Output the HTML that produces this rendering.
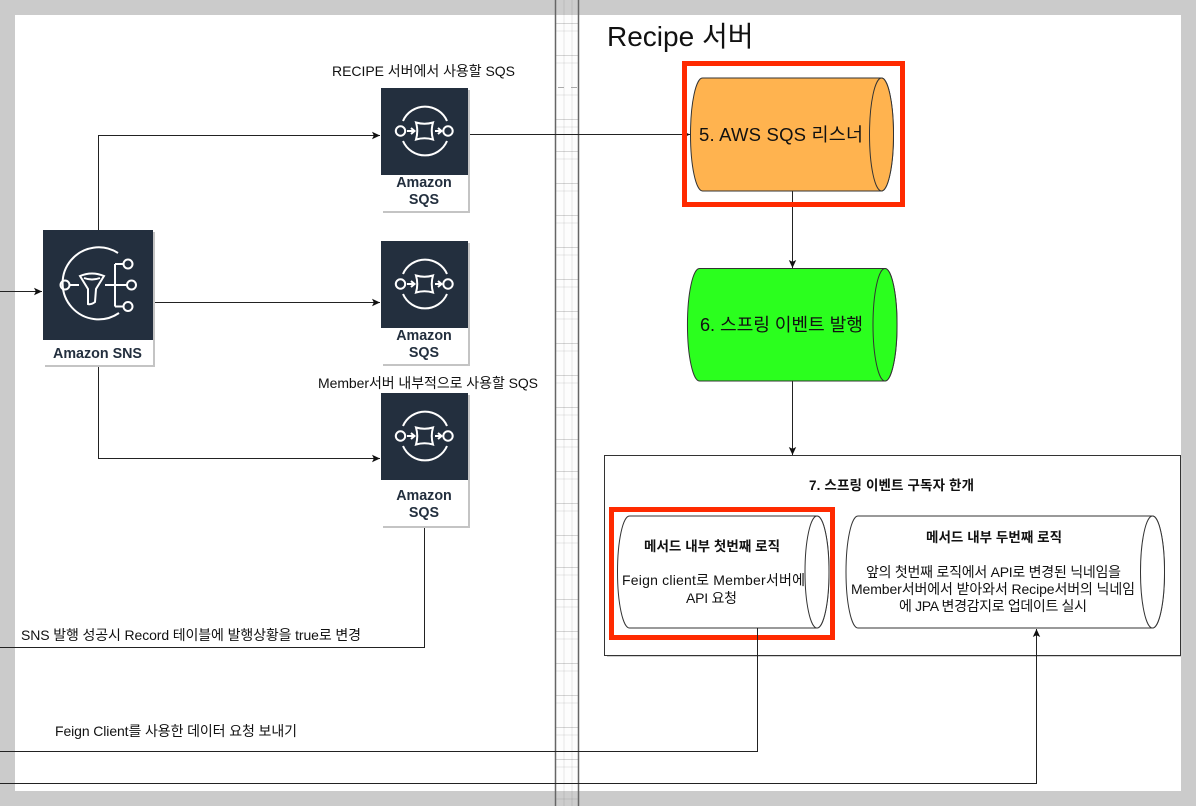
<!DOCTYPE html>
<html lang="ko"><head><meta charset="utf-8"><style>
html,body{margin:0;padding:0;background:#cbcbcb}
svg{display:block}
text{font-family:"Liberation Sans","Noto Sans CJK KR",sans-serif;fill:#111}
.aws{fill:#232f3e;font-weight:bold;font-size:14.300px;text-anchor:middle}
.l{stroke:#222;stroke-width:1;fill:none}
.ic{stroke:#fff;stroke-width:2;fill:none}
.s{font-size:14px}
.b{font-size:13.500px;font-weight:bold}
</style></head><body>
<svg width="1196" height="806" viewBox="0 0 1196 806" xmlns="http://www.w3.org/2000/svg">
<defs>
<marker id="a" markerWidth="10" markerHeight="10" refX="8" refY="4.500" orient="auto" markerUnits="userSpaceOnUse"><path d="M0 .8L8 4.500 0 8.200 1.800 4.500z" fill="#111"/></marker>
<g id="sqs">
<rect x="0" y="0" width="87" height="87" fill="#232f3e"/>
<path class="ic" d="M22 33A24 24 0 0 1 66 33M22 53A24 24 0 0 0 66 53"/>
<circle class="ic" cx="19.500" cy="43" r="4.700"/><circle class="ic" cx="67" cy="43" r="4.700"/>
<path class="ic" d="M35 34.500Q43.500 37 52 34.500Q49.500 43 52 51.500Q43.500 49 35 51.500Q37.500 43 35 34.500z"/>
<path class="ic" d="M26 43H33M30 40L33.500 43 30 46M54 43H60M57 40L60.500 43 57 46"/>
</g>
</defs>
<rect width="1196" height="806" fill="#cbcbcb"/>
<rect x="15" y="15" width="1166" height="776" fill="#fff"/>
<!-- gutter strip -->
<rect x="556" y="0" width="23" height="806" fill="#fdfdfd"/>
<g stroke="#000" stroke-opacity=".055" stroke-width="1.500">
<path d="M564 0V806M572 0V806"/>
<path d="M556 31H579M556 63H579M556 95H579M556 127H579M556 159H579M556 191H579M556 223H579M556 255H579M556 287H579M556 319H579M556 351H579M556 383H579M556 415H579M556 447H579M556 479H579M556 511H579M556 543H579M556 575H579M556 607H579M556 639H579M556 671H579M556 703H579M556 735H579M556 767H579M556 799H579"/>
</g>
<g stroke="#000" stroke-opacity=".16" stroke-width="1">
<path d="M556 23.500H579M556 55.500H579M556 119.500H579M556 151.500H579M556 183.500H579M556 215.500H579M556 247.500H579M556 279.500H579M556 311.500H579M556 343.500H579M556 375.500H579M556 407.500H579M556 439.500H579M556 471.500H579M556 503.500H579M556 535.500H579M556 567.500H579M556 599.500H579M556 631.500H579M556 663.500H579M556 695.500H579M556 727.500H579M556 759.500H579"/>
</g>
<rect x="556" y="0" width="23" height="15" fill="#000" fill-opacity=".19"/>
<rect x="556" y="791" width="23" height="15" fill="#000" fill-opacity=".19"/>
<path d="M558 87.500H564M571 87.500H577" stroke="#aaa" stroke-width="1"/>
<path d="M555.500 0V806M578.500 0V806" stroke="#666" stroke-width="1.500"/>
<!-- connectors -->
<path class="l" d="M0 291.500H42" marker-end="url(#a)"/>
<path class="l" d="M98.500 230V135.500H380" marker-end="url(#a)"/>
<path class="l" d="M154 302.500H380" marker-end="url(#a)"/>
<path class="l" d="M98.500 366V458.500H380" marker-end="url(#a)"/>
<path class="l" d="M469 134.500H690" marker-end="url(#a)"/>
<path class="l" d="M792.500 191V268" marker-end="url(#a)"/>
<path class="l" d="M792.500 381V455" marker-end="url(#a)"/>
<path class="l" d="M424.500 526V647.500H0"/>
<!-- SNS -->
<rect x="45" y="232" width="110" height="135" fill="#c4c4c4"/>
<rect x="44" y="230" width="109" height="135" fill="#fff"/>
<rect x="43" y="230" width="110" height="110" fill="#232f3e"/>
<g class="ic">
<path d="M118 253A36 36 0 1 0 119 313"/>
<circle cx="65" cy="285" r="4.500"/>
<path d="M69.500 285H79M105 285H127M115 264V306.500M115 264H124M115 306.500H124"/>
<circle cx="128" cy="264" r="4.500"/><circle cx="131.500" cy="285" r="4.500"/><circle cx="128" cy="306.500" r="4.500"/>
<path d="M80 276Q92 271 104 276L96 289L95 302Q91 305 88 304V289z"/>
<path d="M84 278Q92 281 100 278"/>
</g>
<text class="aws" x="97.500" y="358">Amazon SNS</text>
<!-- SQS 1 -->
<rect x="383" y="90" width="87" height="123" fill="#c4c4c4"/>
<rect x="382" y="88" width="86" height="123" fill="#fff"/>
<use href="#sqs" x="381" y="88"/>
<text class="aws" x="424" y="187">Amazon</text><text class="aws" x="424" y="204">SQS</text>
<!-- SQS 2 -->
<rect x="383" y="243" width="87" height="123" fill="#c4c4c4"/>
<rect x="382" y="241" width="86" height="123" fill="#fff"/>
<use href="#sqs" x="381" y="241"/>
<text class="aws" x="424" y="340">Amazon</text><text class="aws" x="424" y="357">SQS</text>
<!-- SQS 3 -->
<rect x="383" y="395" width="87" height="133" fill="#c4c4c4"/>
<rect x="382" y="393" width="86" height="133" fill="#fff"/>
<use href="#sqs" x="381" y="393"/>
<text class="aws" x="424" y="500">Amazon</text><text class="aws" x="424" y="517">SQS</text>
<!-- labels left -->
<text class="s" x="332" y="76" textLength="183">RECIPE 서버에서 사용할 SQS</text>
<text class="s" x="318" y="388" textLength="220">Member서버 내부적으로 사용할 SQS</text>
<text class="s" x="21" y="640" textLength="340">SNS 발행 성공시 Record 테이블에 발행상황을 true로 변경</text>
<text class="s" x="55" y="736" textLength="242">Feign Client를 사용한 데이터 요청 보내기</text>
<text x="607" y="46" style="font-size:28px">Recipe 서버</text>
<!-- 5 -->
<path d="M702.500 78H881.500A12 56.500 0 0 1 881.500 191H702.500A12 56.500 0 0 1 702.500 78z" fill="#ffb34f" stroke="#333"/>
<ellipse cx="881.500" cy="134.500" rx="12" ry="56.500" fill="#ffb34f" stroke="#333"/>
<text x="699" y="141" textLength="164" style="font-size:18.500px">5. AWS SQS 리스너</text>
<rect x="684.500" y="63.500" width="218" height="141" fill="none" stroke="#ff2a00" stroke-width="5"/>
<!-- 6 -->
<path d="M699.500 268.500H885A12 56 0 0 1 885 381H699.500A12 56 0 0 1 699.500 268.500z" fill="#2bff1e" stroke="#333"/>
<ellipse cx="885" cy="324.750" rx="12" ry="56.250" fill="#2bff1e" stroke="#333"/>
<text x="700" y="331" textLength="163" style="font-size:18.200px">6. 스프링 이벤트 발행</text>
<!-- 7 box -->
<rect x="607" y="458" width="576" height="199" fill="#d0d0d0"/>
<rect x="604.500" y="455.500" width="576" height="200" fill="#fff" stroke="#333"/>
<text class="b" x="809" y="490" textLength="165">7. 스프링 이벤트 구독자 한개</text>
<!-- cyl1 -->
<path d="M629.500 516H817A12 56 0 0 1 817 628H629.500A12 56 0 0 1 629.500 516z" fill="#fff" stroke="#333"/>
<ellipse cx="817" cy="572" rx="12" ry="56" fill="#fff" stroke="#333"/>
<text class="b" x="644" y="551" textLength="136">메서드 내부 첫번째 로직</text>
<text class="s" x="622" y="585" textLength="183">Feign client로 Member서버에</text>
<text class="s" x="686" y="603" textLength="51">API 요청</text>
<rect x="611.500" y="509.500" width="221" height="128" fill="none" stroke="#ff2a00" stroke-width="5"/>
<!-- cyl2 -->
<path d="M858 516H1152.500A12 56 0 0 1 1152.500 628H858A12 56 0 0 1 858 516z" fill="#fff" stroke="#333"/>
<ellipse cx="1152.500" cy="572" rx="12" ry="56" fill="#fff" stroke="#333"/>
<text class="b" x="926" y="542" textLength="136">메서드 내부 두번째 로직</text>
<text class="s" x="866" y="577" textLength="255">앞의 첫번째 로직에서 API로 변경된 닉네임을</text>
<text class="s" x="851" y="594" textLength="284">Member서버에서 받아와서 Recipe서버의 닉네임</text>
<text class="s" x="899" y="611" textLength="188">에 JPA 변경감지로 업데이트 실시</text>
<!-- connectors over the box -->
<path class="l" d="M757.500 628V751.500H0"/>
<path class="l" d="M0 783.500H1036.500V629" marker-end="url(#a)"/>
</svg>
</body></html>
